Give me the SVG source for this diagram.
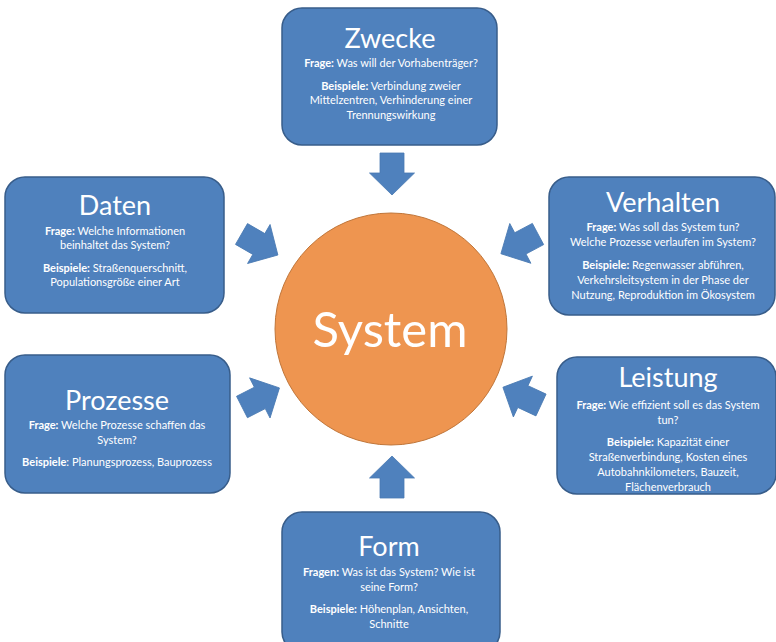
<svg xmlns="http://www.w3.org/2000/svg" width="776" height="642" viewBox="0 0 776 642">
<style>
.box{fill:#4F81BD;stroke:#385D8A;stroke-width:1.5}
.t{font-family:Lato,"Open Sans","Liberation Sans",sans-serif;fill:#fff;text-anchor:middle}
.h{font-size:27px}
.b{font-size:11px}
.bold{font-weight:bold}
.arr{fill:#4F81BD;stroke:#4A7AB3;stroke-width:0.8}
</style>
<defs>
<path id="ba" d="M0,-12 L20,-12 L20,-22.5 L42,0 L20,22.5 L20,12 L0,12 Z"/>
</defs>
<rect width="776" height="642" fill="#fff"/>
<g id="connectors">
<use href="#ba" class="arr" transform="translate(392,153) rotate(90)"/>
<use href="#ba" class="arr" transform="translate(392,498) rotate(-90)"/>
<use href="#ba" class="arr" transform="translate(241.5,234) rotate(30)"/>
<use href="#ba" class="arr" transform="translate(538,234) rotate(152)"/>
<use href="#ba" class="arr" transform="translate(242,407) rotate(-27)"/>
<use href="#ba" class="arr" transform="translate(541,405) rotate(205)"/>
</g>
<g id="system">
<circle cx="391" cy="329" r="116" fill="#EE9550" stroke="#C0763A" stroke-width="1"/>
<text class="t" x="390" y="347" font-size="49">System</text>
</g>
<g id="zwecke">
<rect class="box" x="282" y="8" width="215" height="137" rx="20"/>
<text class="t h" x="390" y="48">Zwecke</text>
<text class="t b" x="391" y="67"><tspan class="bold">Frage:</tspan> Was will der Vorhabenträger?</text>
<text class="t b" x="391" y="90"><tspan class="bold">Beispiele:</tspan> Verbindung zweier</text>
<text class="t b" x="391" y="104">Mittelzentren, Verhinderung einer</text>
<text class="t b" x="391" y="119">Trennungswirkung</text>
</g>
<g id="daten">
<rect class="box" x="5" y="177" width="219" height="136" rx="20"/>
<text class="t h" x="115" y="215">Daten</text>
<text class="t b" x="115" y="235"><tspan class="bold">Frage:</tspan> Welche Informationen</text>
<text class="t b" x="115" y="249">beinhaltet das System?</text>
<text class="t b" x="115" y="272"><tspan class="bold">Beispiele:</tspan> Straßenquerschnitt,</text>
<text class="t b" x="115" y="286">Populationsgröße einer Art</text>
</g>
<g id="verhalten">
<rect class="box" x="549" y="177" width="226" height="138" rx="20"/>
<text class="t h" x="663" y="212">Verhalten</text>
<text class="t b" x="663" y="231"><tspan class="bold">Frage:</tspan> Was soll das System tun?</text>
<text class="t b" x="663" y="246">Welche Prozesse verlaufen im System?</text>
<text class="t b" x="663" y="269"><tspan class="bold">Beispiele:</tspan> Regenwasser abführen,</text>
<text class="t b" x="663" y="284">Verkehrsleitsystem in der Phase der</text>
<text class="t b" x="663" y="299">Nutzung, Reproduktion im Ökosystem</text>
</g>
<g id="prozesse">
<rect class="box" x="5" y="355" width="225" height="138" rx="20"/>
<text class="t h" x="117" y="410">Prozesse</text>
<text class="t b" x="117" y="429"><tspan class="bold">Frage:</tspan> Welche Prozesse schaffen das</text>
<text class="t b" x="117" y="444">System?</text>
<text class="t b" x="117" y="466"><tspan class="bold">Beispiele</tspan>: Planungsprozess, Bauprozess</text>
</g>
<g id="leistung">
<rect class="box" x="557" y="357" width="219" height="137" rx="20"/>
<text class="t h" x="668" y="387">Leistung</text>
<text class="t b" x="668" y="409"><tspan class="bold">Frage:</tspan> Wie effizient soll es das System</text>
<text class="t b" x="668" y="424">tun?</text>
<text class="t b" x="668" y="446"><tspan class="bold">Beispiele:</tspan> Kapazität einer</text>
<text class="t b" x="668" y="461">Straßenverbindung, Kosten eines</text>
<text class="t b" x="668" y="476">Autobahnkilometers, Bauzeit,</text>
<text class="t b" x="668" y="491">Flächenverbrauch</text>
</g>
<g id="form">
<rect class="box" x="282" y="512" width="218" height="140" rx="20"/>
<text class="t h" x="389" y="556">Form</text>
<text class="t b" x="389" y="576"><tspan class="bold">Fragen:</tspan> Was ist das System? Wie ist</text>
<text class="t b" x="389" y="591">seine Form?</text>
<text class="t b" x="389" y="613"><tspan class="bold">Beispiele:</tspan> Höhenplan, Ansichten,</text>
<text class="t b" x="389" y="628">Schnitte</text>
</g>
</svg>
